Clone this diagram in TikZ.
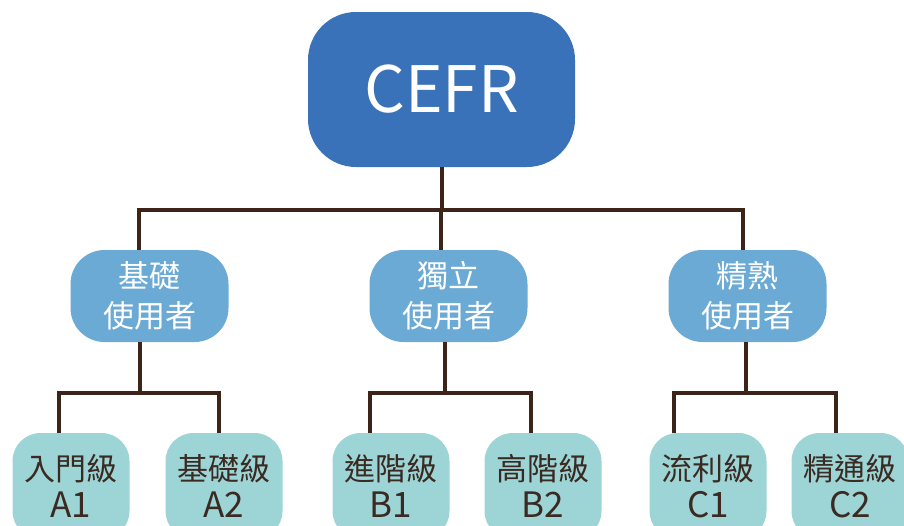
\documentclass[tikz,border=0pt]{standalone}
\usepackage{fontspec}
\newfontfamily\cjk{Noto Sans CJK TC}
\definecolor{topblue}{HTML}{3A72B9}
\definecolor{midblue}{HTML}{6BAAD4}
\definecolor{lowteal}{HTML}{9DD5D6}
\definecolor{linebrown}{HTML}{3D2418}
\definecolor{textdark}{HTML}{3A2A22}
\tikzset{
  topbox/.style={fill=topblue, rounded corners=48pt, minimum width=267pt, minimum height=155pt, inner sep=0pt, text=white, font=\cjk\fontsize{64}{70}\selectfont},
  midbox/.style={fill=midblue, rounded corners=34pt, minimum width=158pt, minimum height=92pt, inner sep=0pt, text=white, align=center, font=\cjk\fontsize{31}{40}\selectfont},
  lowbox/.style={fill=lowteal, rounded corners=28pt, minimum width=117pt, minimum height=106pt, inner sep=0pt, text=textdark, align=center, font=\cjk\fontsize{31}{37}\selectfont},
  conn/.style={draw=linebrown, line width=3.3pt}
}
\begin{document}
\begin{tikzpicture}[x=1pt,y=-1pt]
\clip (0,0) rectangle (904,525);
\fill[white] (0,0) rectangle (904,525);
% top
\node[topbox] (cefr) at (441.5,89.5) {CEFR};
% level 2
\node[midbox] (L2a) at (149.5,296) {基礎\\使用者};
\node[midbox] (L2b) at (448.5,296) {獨立\\使用者};
\node[midbox] (L2c) at (747.5,296) {精熟\\使用者};
% level 3
\newcommand{\lowtxt}[2]{#1\\{\fontsize{35}{37}\selectfont #2}}
\node[lowbox] (A1) at (71,486) {\lowtxt{入門級}{A1}};
\node[lowbox] (A2) at (224,486) {\lowtxt{基礎級}{A2}};
\node[lowbox] (B1) at (391,486) {\lowtxt{進階級}{B1}};
\node[lowbox] (B2) at (543,486) {\lowtxt{高階級}{B2}};
\node[lowbox] (C1) at (708,486) {\lowtxt{流利級}{C1}};
\node[lowbox] (C2) at (850,486) {\lowtxt{精通級}{C2}};
% junction coordinates
\coordinate (jtop) at (442,210);
\coordinate (ja) at (139,210);
\coordinate (jc) at (743,210);
\coordinate (jb) at (441,210);
\coordinate (ba) at (140,393);
\coordinate (bb) at (445,393);
\coordinate (bc) at (746,393);
\coordinate (xa1) at (59,393);
\coordinate (xa2) at (219,393);
\coordinate (xb1) at (370,393);
\coordinate (xb2) at (531,393);
\coordinate (xc1) at (674,393);
\coordinate (xc2) at (836,393);
% connectors
\draw[conn] (cefr.south -| jtop) -- (jtop);
\draw[conn] (L2a.north -| ja) -- (ja) -- (jc) -- (L2c.north -| jc);
\draw[conn] (jb) -- (L2b.north -| jb);
\draw[conn] (L2a.south -| ba) -- (ba);
\draw[conn] (L2b.south -| bb) -- (bb);
\draw[conn] (L2c.south -| bc) -- (bc);
\draw[conn] (A1.north -| xa1) -- (xa1) -- (xa2) -- (A2.north -| xa2);
\draw[conn] (B1.north -| xb1) -- (xb1) -- (xb2) -- (B2.north -| xb2);
\draw[conn] (C1.north -| xc1) -- (xc1) -- (xc2) -- (C2.north -| xc2);
\end{tikzpicture}
\end{document}
